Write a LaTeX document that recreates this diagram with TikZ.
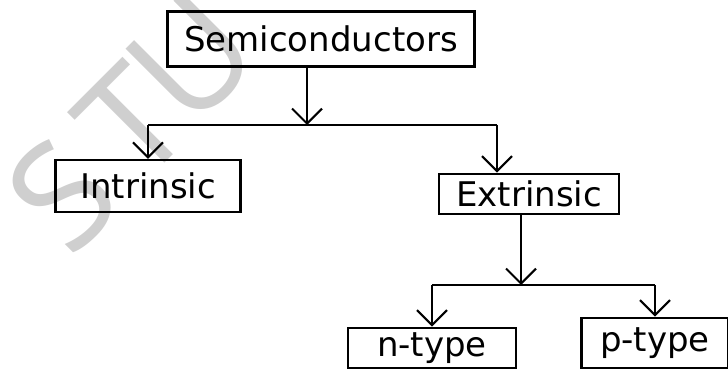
\documentclass[tikz,border=0pt]{standalone}
\usepackage{fontspec}
\setmainfont{DejaVu Sans}
\newfontfamily\markfont{Open Sans}
\usetikzlibrary{arrows.meta,positioning,calc}

\begin{document}
\begin{tikzpicture}[x=0.03cm,y=-0.03cm]

\tikzset{box/.style={draw, line width=2.2pt, inner sep=0pt,
    font=\fontsize{29}{34}\selectfont},
  link/.style={line width=2pt},
  arr/.style={line width=2pt, -{Straight Barb[length=4.5mm,width=9mm,line width=1.8pt]}},
  wmark/.style={text=gray!38, font=\markfont\fontsize{125}{125}\selectfont, rotate=45}
}

\useasboundingbox (0,0) rectangle (728,371);

\node[wmark] (wmS) at (62,195) {S};
\node[wmark] (wmT) at (132,122) {T};
\node[wmark] (wmU) at (192,58) {U};

\node[box, minimum width=9.2cm, minimum height=1.65cm] (semi) at (321,39) {Semiconductors};
\node[box, minimum width=5.55cm, minimum height=1.55cm] (intr) at (148,186) {Intrinsic};
\node[box, minimum width=5.4cm, minimum height=1.2cm] (extr) at (529,194) {Extrinsic};
\node[box, minimum width=5.05cm, minimum height=1.2cm] (ntyp) at (432,348) {n-type};
\node[box, minimum width=4.4cm, minimum height=1.5cm] (ptyp) at (655,343) {p-type};

\coordinate (bar1) at (307,125);
\coordinate (tgt1) at (497,125);
\coordinate (bar2) at (521,285);

\draw[arr] (semi.south -| bar1) -- (bar1);
\draw[link] (intr.north |- bar1) -- (tgt1);
\draw[arr] (intr.north |- bar1) -- (intr.north);
\draw[arr] (tgt1) -- (tgt1 |- extr.north);
\draw[arr] (extr.south -| bar2) -- (bar2);
\draw[link] (ntyp.north |- bar2) -- (ptyp.north |- bar2);
\draw[arr] (ntyp.north |- bar2) -- (ntyp.north);
\draw[arr] (ptyp.north |- bar2) -- (ptyp.north);

\end{tikzpicture}
\end{document}
